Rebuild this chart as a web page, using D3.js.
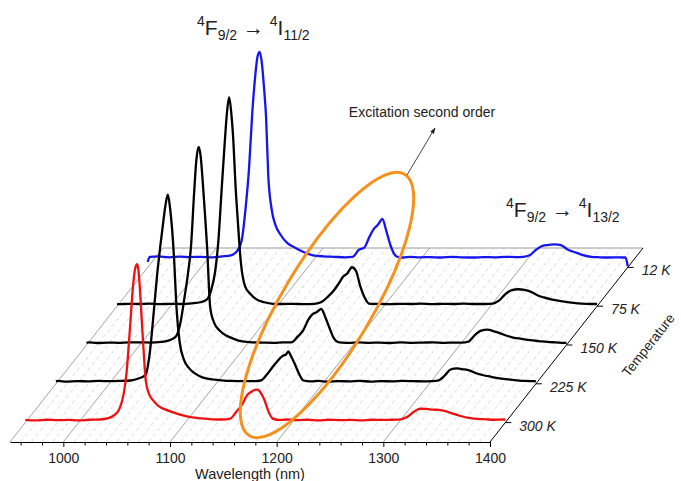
<!DOCTYPE html>
<html><head><meta charset="utf-8">
<script src="https://cdn.jsdelivr.net/npm/d3@7"></script>
<style>
body{margin:0;background:#fff}
svg{display:block}
text{font-family:"Liberation Sans",Arial,sans-serif;fill:#222}
</style>
</head><body>
<svg id="chart" width="681" height="481"></svg>
<script>
// ---------------- data ----------------
const temperatures = ["300 K","225 K","150 K","75 K","12 K"];   // front -> back
const seriesColors = ["#ee1111","#000000","#000000","#000000","#1515ee"];
const majorTicks = [1000,1100,1200,1300,1400];
const minorTicks = [960,980,1020,1040,1060,1080,1120,1140,1160,1180,1220,1240,1260,1280,1320,1340,1360,1380];

const wavelengths = [950,952,960,970,980,990, 1000,1010,1020,1028,1034,1038, 1042,1045,1048,1051,1053,1055,
  1057,1059,1061,1063,1066,1070, 1075,1081,1088,1096,1105,1115, 1125,1135,1142,1148,1153,1158,
  1162,1166,1168,1170,1174,1178, 1182,1186,1190,1196,1205,1215, 1225,1235,1245,1255,1265,1275,
  1285,1295,1302,1308,1314,1320, 1326,1332,1338,1344,1350,1358, 1366,1374,1382,1390,1398,1400];

const int300K = [1.3,1.1,1.0,1.3,1.1,1.2, 1.0,1.3,1.4,2.0,3.6,6.0, 12.5,23,42,62,70,72,
  64,48,32,19,13,10, 7.5,6.0,4.8,3.5,2.5,1.9, 1.5,1.4,1.8,5.0,8.0,12.5,
  14,15,15,14,10.5,5.0, 1.8,1.3,1.2,1.4,1.1,1.3, 1.0,1.3,1.1,1.2,1.0,1.3,
  1.2,1.3,1.5,2.5,4.8,6.3, 6.2,5.9,5.8,5.2,4.2,3.0, 2.1,1.7,1.5,1.3,1.4,1.3];
const int225K = [1.1,1.3,1.0,1.2,1.1,1.3, 1.2,1.3,1.5,2.5,4.0,14, 34,50,63,75,82,86,
  80,70,55,35,19,11, 7.0,4.5,2.8,2.0,1.6,1.3, 1.2,1.2,1.5,4.3,7.5,10.5,
  12.5,13.5,14.7,13,9.0,4.5, 1.5,1.2,1.1,1.3,1.0,1.2, 1.1,1.3,1.0,1.2,1.1,1.3,
  1.2,1.1,1.2,1.4,3.5,6.5, 7.0,6.6,6.0,4.8,4.0,3.2, 2.5,2.0,1.6,1.3,1.2,1.1];
const int150K = [1.0,1.2,0.9,1.1,1.0,1.2, 1.2,1.1,1.4,2.2,4.0,10, 22,32,45,70,84,90,
  86,74,60,45,17,9.7, 6.5,4.3,2.8,1.6,1.2,1.1, 1.0,1.2,1.2,3.8,6.5,11.5,
  14,15,15.8,16.4,12.5,7.5, 3.0,1.3,1.1,1.0,1.2,1.0, 1.1,0.9,1.2,1.0,1.1,1.2,
  1.0,1.1,1.1,1.5,4.5,6.5, 7.0,6.2,5.3,4.2,3.4,2.8, 2.2,1.8,1.4,1.2,1.0,1.0];
const int75K = [1.0,0.9,1.1,1.0,1.2,0.9, 1.1,1.0,1.3,1.8,3.0,7.0, 16,30,53,75,88,95,
  88,75,55,40,20,9.0, 5.5,3.0,1.8,1.1,1.0,1.1, 0.9,1.1,2.0,4.5,7.0,10.5,
  13.5,15,16.5,17.7,16,9.0, 4.0,1.2,1.0,1.1,0.9,1.1, 1.0,1.2,0.9,1.1,1.0,1.2,
  1.0,1.0,1.2,2.5,5.5,7.3, 7.7,7.4,6.5,5.0,4.0,3.0, 2.3,1.7,1.3,1.1,1.0,1.0];
const int12K = [2.5,4.8,5.0,4.6,4.9,4.7, 4.8,4.6,5.0,5.5,7.5,12, 28,45,70,88,96,98,
  93,82,68,42,27,19, 14.5,11,9.0,7.0,5.5,5.0, 4.8,4.6,4.8,8.0,9.0,14,
  17.5,19.5,21,22,16,9.5, 5.5,4.6,4.5,4.8,4.6,4.7, 4.5,4.8,4.6,4.5,4.7,4.6,
  4.8,4.7,4.8,5.5,8.0,9.8, 10.2,10.5,10,8.0,7.0,5.6, 4.8,4.6,4.5,4.6,4.5,0.5];
const intensities = [int300K,int225K,int150K,int75K,int12K];

// ---------------- scales ----------------
const svg = d3.select("#chart");
const x = d3.scaleLinear().domain([950,1400]).range([10,490]);
const depth = d3.scalePoint().domain(temperatures).range([0,1]).padding(0.5);
const depthX = d3.scaleLinear().domain([0,1]).range([0,153]);
const depthY = d3.scaleLinear().domain([0,1]).range([442,248]);
const h = d3.scaleLinear().domain([0,100]).range([0,220]);
const px = (w,d) => x(w) + depthX(d);
const py = (d,v) => depthY(d) - h(v);

// ---------------- floor grid ----------------
const grid = svg.append("g");
const minorGrid = d3.range(960,1400,10).filter(v => v % 100 !== 0);
grid.selectAll("line.minor").data(minorGrid).join("line")
  .attr("x1", w => px(w,0)).attr("y1", depthY(0))
  .attr("x2", w => px(w,1)).attr("y2", depthY(1))
  .attr("stroke","#cfcfcf").attr("stroke-width",0.8).attr("stroke-dasharray","4,3");
grid.selectAll("line.major").data([950,1000,1100,1200,1300]).join("line")
  .attr("x1", w => px(w,0)).attr("y1", depthY(0))
  .attr("x2", w => px(w,1)).attr("y2", depthY(1))
  .attr("stroke","#9a9a9a").attr("stroke-width",0.9);
grid.append("line")
  .attr("x1", px(950,1)).attr("y1", depthY(1))
  .attr("x2", px(1400,1)).attr("y2", depthY(1))
  .attr("stroke","#9a9a9a").attr("stroke-width",1);

// ---------------- front axis ----------------
const axG = svg.append("g").attr("transform",`translate(0,${depthY(0)})`);
axG.call(d3.axisBottom(x).tickValues(majorTicks).tickSize(5).tickSizeOuter(0).tickPadding(6).tickFormat(d3.format("d")));
axG.selectAll("text").attr("font-size",14).attr("fill","#222").attr("font-family",'"Liberation Sans",Arial,sans-serif');
axG.select(".domain").attr("stroke","#000").attr("stroke-width",1);
const axMinor = svg.append("g").attr("transform",`translate(0,${depthY(0)})`);
axMinor.call(d3.axisBottom(x).tickValues(minorTicks).tickSize(3.5).tickFormat(""));
axMinor.select(".domain").remove();
svg.append("text").attr("x", x(1175)).attr("y", 479).attr("text-anchor","middle")
  .attr("font-size",14.5).text("Wavelength (nm)");

// ---------------- depth axis ----------------
const dAx = svg.append("g");
dAx.append("line").attr("x1",px(1400,0)).attr("y1",depthY(0)).attr("x2",px(1400,1)).attr("y2",depthY(1))
  .attr("stroke","#000").attr("stroke-width",1);
dAx.selectAll("line.tk").data(temperatures).join("line")
  .attr("x1", t => px(1400,depth(t))).attr("y1", t => depthY(depth(t)))
  .attr("x2", t => px(1400,depth(t)) + 6).attr("y2", t => depthY(depth(t)))
  .attr("stroke","#000").attr("stroke-width",1);
dAx.selectAll("text.tl").data(temperatures).join("text")
  .attr("x", t => px(1400,depth(t)) + 14).attr("y", t => depthY(depth(t)) + 8)
  .attr("font-size",14).attr("font-style","italic").text(t => t);
svg.append("text").attr("transform","translate(652,348) rotate(-51.7)")
  .attr("text-anchor","middle").attr("font-size",13.5).text("Temperature");

// ---------------- spectra (back to front) ----------------
const line = d3.line().curve(d3.curveMonotoneX);
const order = d3.range(temperatures.length).reverse();
svg.append("g").selectAll("path").data(order).join("path")
  .attr("d", i => line(wavelengths.map((w,k) => [px(w,depth(temperatures[i])), py(depth(temperatures[i]), intensities[i][k])])))
  .attr("fill","none").attr("stroke", i => seriesColors[i]).attr("stroke-width",2.3)
  .attr("stroke-linejoin","round");

// ---------------- annotations ----------------
svg.append("ellipse").attr("transform","translate(327,305) rotate(-59.3)")
  .attr("rx",152).attr("ry",45).attr("fill","none").attr("stroke","#f5921f").attr("stroke-width",3);
svg.append("defs").append("marker").attr("id","ah").attr("viewBox","0 0 10 10")
  .attr("refX",9).attr("refY",5).attr("markerWidth",7).attr("markerHeight",7).attr("orient","auto")
  .append("path").attr("d","M0,1.5L10,5L0,8.5Z").attr("fill","#222");
svg.append("line").attr("x1",407).attr("y1",175).attr("x2",435).attr("y2",128)
  .attr("stroke","#333").attr("stroke-width",0.9).attr("marker-end","url(#ah)");
svg.append("text").attr("x",422).attr("y",117).attr("text-anchor","middle").attr("font-size",14)
  .text("Excitation second order");

function transition(xp, yp, sub2){
  const t = svg.append("text").attr("x",xp).attr("y",yp).attr("font-size",21);
  t.append("tspan").attr("font-size",14).attr("dy",-9).text("4");
  t.append("tspan").attr("dy",9).text("F");
  t.append("tspan").attr("font-size",14).attr("dy",5).text("9/2");
  t.append("tspan").attr("dy",-5).text(" \u2192 ");
  t.append("tspan").attr("font-size",14).attr("dy",-9).text("4");
  t.append("tspan").attr("dy",9).text("I");
  t.append("tspan").attr("font-size",14).attr("dy",5).text(sub2);
}
transition(197,35,"11/2");
transition(506,217,"13/2");
</script>
</body></html>
